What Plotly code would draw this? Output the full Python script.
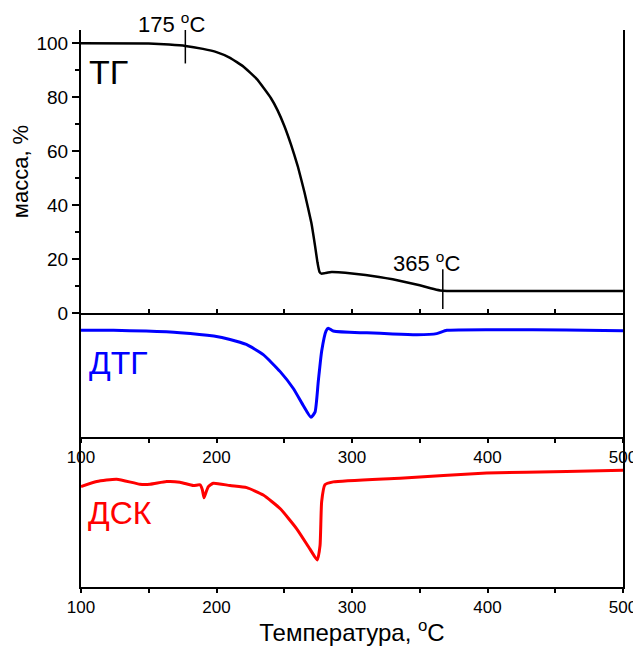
import plotly.graph_objects as go

# ---------------- data ----------------
tg_temp = [100, 150, 165, 177, 190, 200, 210, 220, 230, 240, 245, 250, 255, 260, 265, 270,
           272.7, 274.5, 276, 277.5, 280, 285, 290, 300, 310, 320, 330, 340, 350, 358, 365,
           370, 400, 450, 500]
tg_mass = [100, 99.9, 99.5, 99.0, 97.9, 96.7, 94.6, 91.3, 86.6, 79.8, 75.2, 69.4, 62.4, 54.4, 44.6, 33.5,
           25, 18.8, 15.3, 14.6, 14.8, 15.2, 15.1, 14.7, 14.1, 13.4, 12.5, 11.4, 10.3, 9.2, 8.4,
           8.2, 8.2, 8.2, 8.2]

dtg_temp = [100, 124, 148, 173, 198, 210, 222, 234.5, 247, 256.7, 264, 269.7, 272.7, 275.1,
            277.6, 280.8, 282.5, 286.2, 306, 311, 330, 348, 362.5, 370, 409, 458, 500]
dtg_val = [-0.81, -0.81, -0.89, -1.06, -1.42, -1.77, -2.3, -3.37, -5.15, -6.92, -8.7, -9.94,
           -9.41, -6.2, -3.0, -0.89, -0.6, -0.89, -1.06, -1.06, -1.2, -1.28, -1.16, -0.81,
           -0.74, -0.77, -0.85]

dsc_temp = [100, 111.6, 126.3, 143.5, 150.9, 163.2, 173, 182.9, 187.8, 189.5, 190.8, 192.3,
            194, 197.6, 210, 222.3, 234.5, 246.9, 259.2, 269, 274.4, 276.4, 277.6, 280,
            286.2, 335.4, 399.4, 458.4, 500]
dsc_val = [-3.30, -2.76, -2.51, -3.05, -3.05, -2.76, -2.83, -3.19, -3.11, -3.6, -4.5, -3.9,
           -3.30, -2.94, -3.19, -3.41, -4.2, -5.64, -7.8, -9.97, -11.12, -9.6, -4.92, -3.11,
           -2.80, -2.4, -1.86, -1.68, -1.57]

onset_temps = [177, 367]
onset_labels = ["175 <sup>o</sup>C", "365 <sup>o</sup>C"]

x_ticks = [100, 200, 300, 400, 500]
tg_ticks = [0, 20, 40, 60, 80, 100]

FONT = "Liberation Sans, Arial, sans-serif"

fig = go.Figure()
fig.add_trace(go.Scatter(x=tg_temp, y=tg_mass, mode="lines", line=dict(color="black", width=2.5, shape="spline", smoothing=0.3),
                         xaxis="x", yaxis="y", showlegend=False))
fig.add_trace(go.Scatter(x=dtg_temp, y=dtg_val, mode="lines", line=dict(color="#0000ff", width=3, shape="spline", smoothing=0.5),
                         xaxis="x2", yaxis="y2", showlegend=False))
fig.add_trace(go.Scatter(x=dsc_temp, y=dsc_val, mode="lines", line=dict(color="#ff0000", width=3, shape="spline", smoothing=0.5),
                         xaxis="x3", yaxis="y3", showlegend=False))

d_bot = 148 / 549
d_mid = 270 / 549

axcommon = dict(showgrid=False, zeroline=False, linecolor="black", linewidth=2, automargin=False,
                tickcolor="black", tickfont=dict(family=FONT, size=17, color="black"))

# page body has an 8px default margin, so the figure is sized/margined to compensate
fig.update_layout(
    width=633, height=638,
    margin=dict(l=73, r=18, t=22, b=59),
    paper_bgcolor="white", plot_bgcolor="white",
    font=dict(family=FONT, color="black"),
    xaxis=dict(anchor="y", domain=[0, 1], range=[100, 500], showline=True, showticklabels=False,
               ticks="inside", tickvals=[100, 150, 200, 250, 300, 350, 400, 450, 500], ticklen=4,
               tickwidth=1.5, **axcommon),
    yaxis=dict(anchor="x", domain=[d_mid, 1], range=[0, 104.9], showline=True, mirror=True,
               ticks="outside", tickvals=tg_ticks, ticklen=7, tickwidth=1.5,
               minor=dict(ticks="outside", dtick=10, ticklen=4, tickwidth=1.5, tickcolor="black"),
               title=dict(text="масса, %", font=dict(family=FONT, size=22, color="black"), standoff=4),
               **{**axcommon, "tickfont": dict(family=FONT, size=19, color="black")}),
    xaxis2=dict(anchor="y2", domain=[0, 1], range=[100, 500], showline=True, ticks="outside",
                tickvals=x_ticks, ticklen=4, tickwidth=1.5,
                minor=dict(ticks="outside", dtick=50, ticklen=4, tickwidth=1.5, tickcolor="black"),
                **axcommon),
    yaxis2=dict(anchor="x2", domain=[d_bot, d_mid], range=[-12, 1], showline=True, mirror=True,
                showticklabels=False, ticks="", **axcommon),
    xaxis3=dict(anchor="y3", domain=[0, 1], range=[100, 500], showline=True, ticks="outside",
                tickvals=x_ticks, ticklen=4, tickwidth=1.5,
                minor=dict(ticks="outside", dtick=50, ticklen=4, tickwidth=1.5, tickcolor="black"),
                title=dict(text="Температура, <sup>o</sup>C", font=dict(family=FONT, size=24, color="black"), standoff=14),
                **axcommon),
    yaxis3=dict(anchor="x3", domain=[0, d_bot], range=[-14, 2], showline=True, mirror=True,
                showticklabels=False, ticks="", **axcommon),
    yaxis4=dict(overlaying="y2", anchor="x2", side="right", range=[-12, 1], showticklabels=False,
                ticks="inside", dtick=2, ticklen=3, tickwidth=1, tickcolor="black", showgrid=False,
                zeroline=False, showline=False, automargin=False),
    yaxis5=dict(overlaying="y3", anchor="x3", side="right", range=[-14, 2], showticklabels=False,
                ticks="inside", dtick=2, ticklen=3, tickwidth=1, tickcolor="black", showgrid=False,
                zeroline=False, showline=False, automargin=False),
)

# onset markers on TG curve (label positions in y-domain fractions so they are not hidden)
for t, lab, ytop, ybot, ytxt, xs in zip(onset_temps, onset_labels, [110.5, 16.2], [92.5, 1.5],
                                        [1.025, 0.18], [-14, -16]):
    fig.add_shape(type="line", xref="x", yref="y", x0=t, x1=t, y0=ybot, y1=ytop,
                  line=dict(color="black", width=1.5))
    fig.add_annotation(xref="x", yref="y domain", x=t, y=ytxt, text=lab, showarrow=False,
                       xanchor="center", yanchor="middle", xshift=xs,
                       font=dict(family=FONT, size=22, color="black"))

fig.add_annotation(xref="x", yref="y", x=104.5, y=89.5, text="ТГ", showarrow=False,
                   xanchor="left", yanchor="middle", font=dict(family=FONT, size=34, color="black"))
fig.add_annotation(xref="x2", yref="y2", x=104.5, y=-4.2, text="ДТГ", showarrow=False,
                   xanchor="left", yanchor="middle", font=dict(family=FONT, size=32, color="#0000ff"))
fig.add_annotation(xref="x3", yref="y3", x=103.5, y=-6.1, text="ДСК", showarrow=False,
                   xanchor="left", yanchor="middle", font=dict(family=FONT, size=32, color="#ff0000"))

fig.write_html("out.html")
